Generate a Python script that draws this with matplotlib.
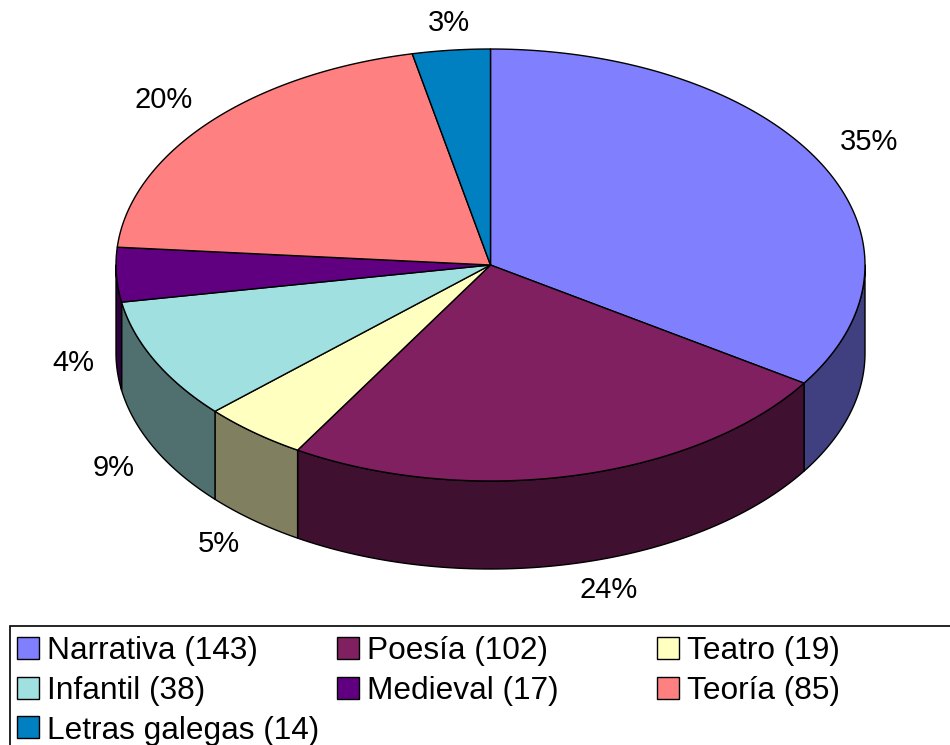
import numpy as np
import matplotlib
matplotlib.use("Agg")
import matplotlib.pyplot as plt
from matplotlib.patches import Polygon, Rectangle

# ---- data ----
categories = ["Narrativa", "Poesía", "Teatro", "Infantil", "Medieval", "Teoría", "Letras galegas"]
counts = [143, 102, 19, 38, 17, 85, 14]
pct_labels = ["35%", "24%", "5%", "9%", "4%", "20%", "3%"]
colors = ["#8080FF", "#802060", "#FFFFC0", "#A0E0E0", "#600080", "#FF8080", "#0080C0"]

# ---- layout (pixel space) ----
W, H = 950, 745
cx, cy = 490.5, 265.0
rx, ry = 374.5, 216.0
depth = 88.0

fig = plt.figure(figsize=(W / 100, H / 100), dpi=100)
ax = fig.add_axes([0, 0, 1, 1])
ax.set_xlim(0, W)
ax.set_ylim(H, 0)
ax.axis("off")

def pt(a_deg, k=1.0, dz=0.0):
    a = np.radians(a_deg)
    return cx + k * rx * np.cos(a), cy - k * ry * np.sin(a) + dz

def darker(c):
    r, g, b = matplotlib.colors.to_rgb(c)
    return (r * 0.5, g * 0.5, b * 0.5)

total = float(sum(counts))
spans = [c / total * 360.0 for c in counts]
starts = 90.0 - np.concatenate([[0], np.cumsum(spans)[:-1]])
ends = starts - np.array(spans)

# side walls (front half only: angles in [-180, 0])
for s, e, col in zip(starts, ends, colors):
    hi, lo = min(s, 0.0), max(e, -180.0)
    if hi <= lo:
        continue
    angs = np.linspace(hi, lo, 80)
    xs, ys = pt(angs)
    top = np.column_stack([xs, ys])
    bot = np.column_stack([xs, ys + depth])[::-1]
    ax.add_patch(Polygon(np.vstack([top, bot]), closed=True, facecolor=darker(col),
                         edgecolor="black", linewidth=1.0, joinstyle="round"))

# top faces
for s, e, col in zip(starts, ends, colors):
    angs = np.linspace(s, e, 120)
    xs, ys = pt(angs)
    verts = np.vstack([[cx, cy], np.column_stack([xs, ys])])
    ax.add_patch(Polygon(verts, closed=True, facecolor=col, edgecolor="black",
                         linewidth=1.0, joinstyle="round"))

# percentage labels
for s, e, lab in zip(starts, ends, pct_labels):
    m = (s + e) / 2.0
    ca, sa = np.cos(np.radians(m)), np.sin(np.radians(m))
    x, y = pt(m, k=1.06, dz=depth if sa < 0 else 0.0)
    ha = "left" if ca > 0.15 else ("right" if ca < -0.15 else "center")
    va = "bottom" if sa > 0.3 else ("top" if sa < -0.3 else "center")
    ax.text(x, y, lab, ha=ha, va=va, fontsize=21, family=["Liberation Sans", "DejaVu Sans"])

# legend (manual, equal column widths like the original)
ax.add_patch(Rectangle((10, 626), W + 20, 200, facecolor="white", edgecolor="black",
                       linewidth=1.2, clip_on=True))
col_x = [17, 337, 657]
row_y = [648, 688, 727]
for i, (name, n, col) in enumerate(zip(categories, counts, colors)):
    r, c = divmod(i, 3)
    x0, y0 = col_x[c], row_y[r]
    ax.add_patch(Rectangle((x0, y0 - 11), 22, 22, facecolor=col, edgecolor="black", linewidth=1.0))
    ax.text(x0 + 30, y0, f"{name} ({n})", ha="left", va="center_baseline", fontsize=22.8,
            family=["Liberation Sans", "DejaVu Sans"])

fig.savefig("out.png", dpi=100)
